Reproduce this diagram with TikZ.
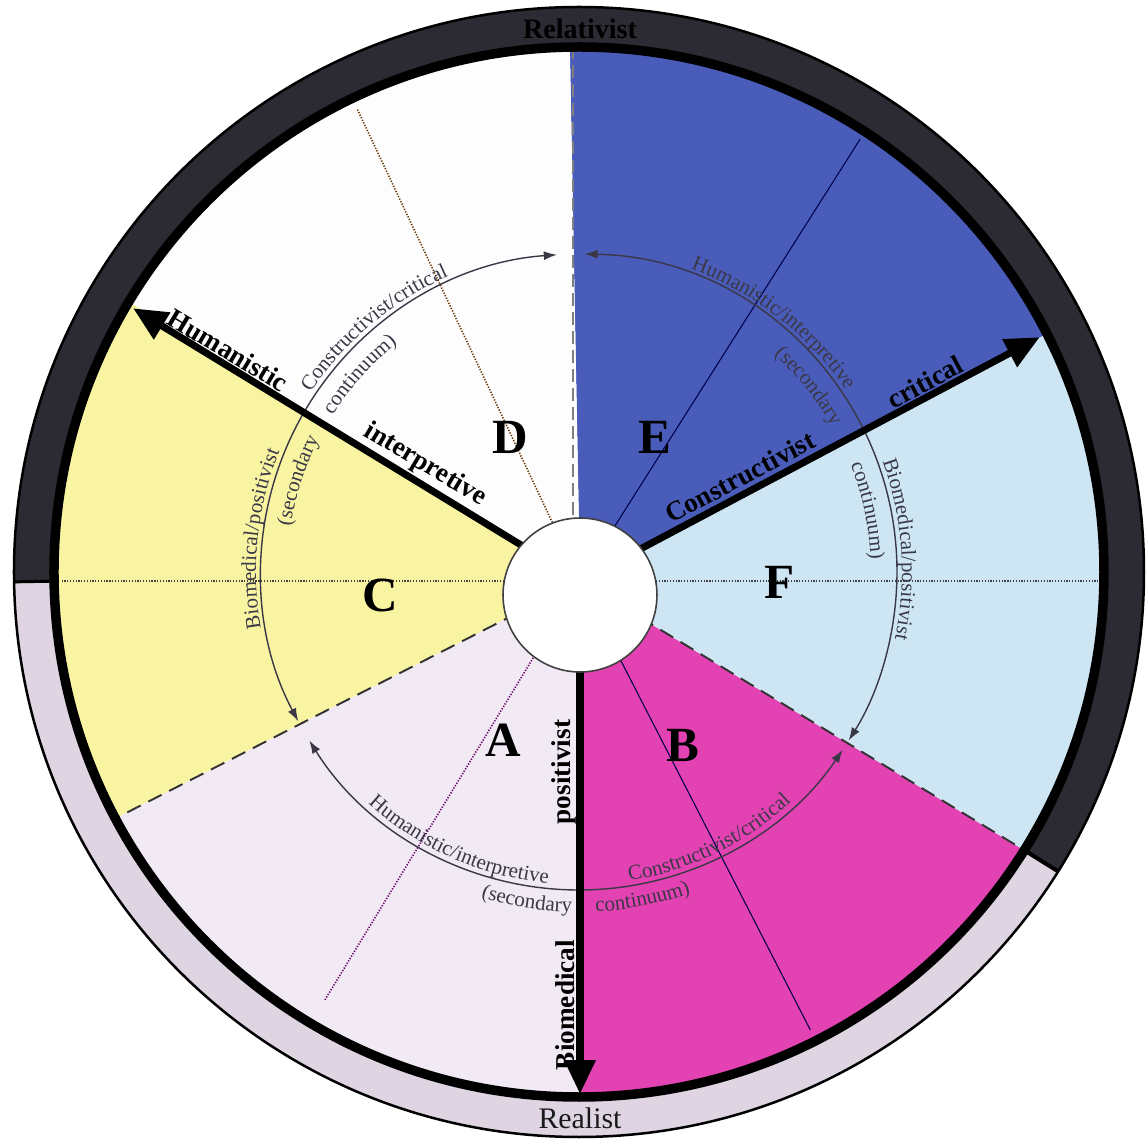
\documentclass[tikz,border=0pt]{standalone}
\usepackage{fontspec}
\setmainfont{Liberation Serif}
\usetikzlibrary{arrows.meta,decorations.text}
\definecolor{cSecD}{RGB}{253,253,253}
\definecolor{cSecE}{RGB}{74,92,186}
\definecolor{cSecF}{RGB}{206,230,243}
\definecolor{cSecB}{RGB}{226,66,178}
\definecolor{cSecA}{RGB}{241,233,243}
\definecolor{cSecC}{RGB}{249,244,162}
\definecolor{cRingDark}{RGB}{44,42,50}
\definecolor{cRingLight}{RGB}{222,212,226}
\definecolor{cArc}{RGB}{58,56,70}
\newcommand\arcfont{\fontsize{12}{14}\selectfont}
% #1 start angle, #2 end angle, #3 radius, #4 text
\newcommand\arclabel[4]{%
  \path[decorate,decoration={text along path,text align=center,
    text={|\arcfont\color{cArc}|#4}}] (#1:#3) arc[start angle=#1,end angle=#2,radius=#3];}
\tikzset{
  spoke/.style={line width=4pt,-{Triangle[length=0.68cm,width=0.6cm]}},
  secarc/.style={cArc,line width=0.8pt,{Latex[length=2.6mm,width=1.8mm]}-{Latex[length=2.6mm,width=1.8mm]}},
  dotline/.style={black!75,line width=0.9pt,dash pattern=on 0.7pt off 0.9pt},
  thinline/.style={black!70!blue,line width=0.6pt},
  sectordash/.style={black!80,line width=1.1pt,dash pattern=on 0.3cm off 0.17cm},
  spokelabel/.style={font=\fontsize{15.5}{17}\selectfont\bfseries,inner sep=0pt},
  sectorletter/.style={font=\fontsize{28}{30}\selectfont\bfseries,inner sep=0pt},
}
\begin{document}
\begin{tikzpicture}[x=0.02cm,y=0.02cm]
\useasboundingbox[fill=white] (-579,-567) rectangle (568,572);
\coordinate (P) at (1,-9);
\coordinate (humTip) at (149.4:518);
\coordinate (conTip) at (27:517);
\coordinate (bioTip) at (1,-522);
% sectors
\fill[cSecC] (P) -- (149:525) arc[start angle=149,end angle=208,radius=525] -- cycle;
\fill[cSecA] (P) -- (208:525) arc[start angle=208,end angle=270,radius=525] -- cycle;
\fill[cSecB] (P) -- (270:525) arc[start angle=270,end angle=328,radius=525] -- cycle;
\fill[cSecF] (P) -- (-32:525) arc[start angle=-32,end angle=27,radius=525] -- cycle;
\fill[cSecE] (P) -- (27:525) arc[start angle=27,end angle=91,radius=525] -- cycle;
\fill[cSecD] (P) -- (91:525) arc[start angle=91,end angle=149,radius=525] -- cycle;
% lines inside the sectors
\coordinate (cEnd) at (-519,-9);
\coordinate (fEnd) at (521,-9);
\coordinate (dEnd) at (115.6:514);
\coordinate (eEnd) at (57:516);
\coordinate (aEnd) at (239.3:498);
\coordinate (bEnd) at (-63.2:513);
\draw[dotline] (P) -- (cEnd);
\draw[dotline] (P) -- (fEnd);
\draw[dotline,black!60!orange] (P) -- (dEnd);
\draw[dotline,violet!80!black] (P) -- (aEnd);
\draw[thinline] (P) -- (eEnd);
\draw[thinline] (P) -- (bEnd);
% sector borders
\coordinate (topEnd) at (-6,522);
\coordinate (leftEnd) at (208:522);
\coordinate (rightEnd) at (-32:522);
\draw[gray,line width=1.1pt,dash pattern=on 0.26cm off 0.12cm] (-6,0) -- (topEnd);
\draw[sectordash] (P) -- (leftEnd);
\draw[sectordash] (P) -- (rightEnd);
% secondary continua
\draw[secarc] (94:318) arc[start angle=94,end angle=208,radius=318];
\draw[secarc] (89:318) arc[start angle=89,end angle=-32,radius=318];
\draw[secarc] (212:318) arc[start angle=212,end angle=326,radius=318];
\arclabel{160}{100}{323}{Constructivist/critical}
\arclabel{168}{108}{292}{continuum)}
\arclabel{204}{144}{323}{Biomedical/positivist}
\arclabel{192}{132}{292}{(secondary}
\arclabel{82}{22}{323}{Humanistic/interpretive}
\arclabel{69}{9}{292}{(secondary}
\arclabel{34}{-26}{323}{Biomedical/positivist}
\arclabel{42}{-18}{292}{continuum)}
\arclabel{-144}{-84}{313}{Humanistic/interpretive}
\arclabel{-129}{-69}{340}{(secondary}
\arclabel{-94}{-34}{313}{Constructivist/critical}
\arclabel{-109}{-49}{340}{continuum)}
% main axes
\draw[spoke] (P) -- (humTip);
\draw[spoke] (P) -- (conTip);
\draw[spoke] (P) -- (bioTip);
\node[circle,fill=white,draw=black!75,line width=0.9pt,minimum size=3.08cm] (hub) at (1,-23) {};
% outer ring
\fill[cRingDark] (-32:565) arc[start angle=-32,end angle=181,radius=565]
  -- (181:525) arc[start angle=181,end angle=-32,radius=525] -- cycle;
\fill[cRingLight] (181:565) arc[start angle=181,end angle=328,radius=565]
  -- (328:525) arc[start angle=328,end angle=181,radius=525] -- cycle;
\draw[line width=0.05cm] (0,0) circle[radius=565];
\draw[line width=0.06cm] (181:525) -- (181:565);
\draw[line width=0.08cm] (-32:525) -- (-32:565);
\draw[line width=0.19cm] (0,0) circle[radius=525];
\node[font=\fontsize{16}{18}\selectfont\bfseries,text=black] (relativist) at (1,543) {Relativist};
\node[font=\fontsize{17}{19}\selectfont,text=black!90] (realist) at (1,-546) {Realist};
% axis labels
\node[spokelabel,rotate=-31] (lHum) at (-351,222) {Humanistic};
\node[spokelabel,rotate=-31] (lInt) at (-154,107) {interpretive};
\node[spokelabel,rotate=28] (lCon) at (161,95) {Constructivist};
\node[spokelabel,rotate=28] (lCrit) at (346,190) {critical};
\node[spokelabel,rotate=90] (lPos) at (-15,-200) {positivist};
\node[spokelabel,rotate=90] (lBio) at (-14,-433) {Biomedical};
% sector letters
\node[sectorletter] (sD) at (-69,135) {D};
\node[sectorletter] (sE) at (76,135) {E};
\node[sectorletter] (sC) at (-199,-23) {C};
\node[sectorletter] (sF) at (201,-10) {F};
\node[sectorletter] (sA) at (-76,-168) {A};
\node[sectorletter] (sB) at (104,-173) {B};
\end{tikzpicture}
\end{document}
